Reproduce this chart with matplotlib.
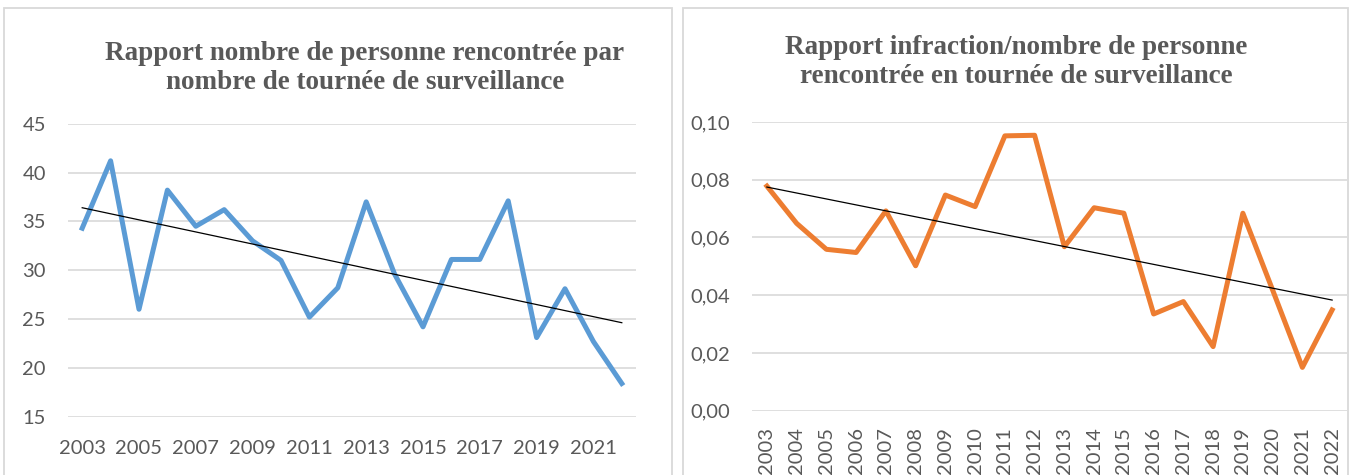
import numpy as np
import matplotlib
matplotlib.use("Agg")
import matplotlib.pyplot as plt
from matplotlib.patches import Rectangle

years = list(range(2003, 2023))

# personnes rencontrées / tournée
personnes = [34.3, 41.2, 26.0, 38.2, 34.5, 36.2, 33.0, 31.0, 25.2, 28.2,
             37.0, 29.6, 24.2, 31.1, 31.1, 37.1, 23.1, 28.1, 22.7, 18.4]

# infractions / personne rencontrée
infractions = [0.0778, 0.0649, 0.0559, 0.0548, 0.0692, 0.0502, 0.0747, 0.0707,
               0.0952, 0.0954, 0.0568, 0.0703, 0.0684, 0.0335, 0.0378, 0.0222,
               0.0684, 0.0418, 0.0150, 0.0349]

left_ticks = [15, 20, 25, 30, 35, 40, 45]
right_ticks = [0.00, 0.02, 0.04, 0.06, 0.08, 0.10]

title_left = "Rapport nombre de personne rencontrée par\nnombre de tournée de surveillance"
title_right = "Rapport infraction/nombre de personne\nrencontrée en tournée de surveillance"

GRID = "#D9D9D9"
TXT = "#595959"

W, H = 1354, 475
fig = plt.figure(figsize=(W / 100, H / 100), dpi=100)


def fx(px):
    return px / W


def fy(py):
    return 1 - py / H


# chart frames
for x0, x1 in [(4, 672), (683, 1348)]:
    fig.patches.append(Rectangle((fx(x0), fy(490)), fx(x1 - x0), fy(8) - fy(490),
                                 transform=fig.transFigure, fill=False,
                                 edgecolor=GRID, linewidth=1.3))


def style(ax, ticks, labels, ylim):
    ax.set_xlim(-0.5, len(years) - 0.5)
    ax.set_ylim(*ylim)
    ax.set_yticks(ticks)
    ax.set_yticklabels(labels)
    ax.grid(axis="y", color=GRID, linewidth=1.2)
    ax.set_axisbelow(True)
    for s in ax.spines.values():
        s.set_visible(False)
    ax.tick_params(length=0, colors=TXT, labelsize=14.5)
    for lab in ax.get_xticklabels() + ax.get_yticklabels():
        lab.set_family("Lato")


def trend(ax, x, y):
    a, b = np.polyfit(x, y, 1)
    ax.plot(x, a * x + b, color="black", linewidth=0.9, zorder=4)


# left chart
axl = fig.add_axes([fx(68), fy(416.7), fx(568), fy(123.7) - fy(416.7)])
xl = np.arange(len(years))
axl.plot(xl, personnes, color="#5B9BD5", linewidth=3.6, solid_joinstyle="round", zorder=3)
trend(axl, xl, personnes)
axl.set_xticks(xl[::2])
axl.set_xticklabels([str(y) for y in years[::2]])
style(axl, left_ticks, [str(t) for t in left_ticks], (15, 45))
axl.tick_params(axis="x", pad=17)
axl.tick_params(axis="y", pad=16)
fig.text(fx(365), fy(68), title_left, ha="center", va="center", fontsize=19.5,
         fontweight="bold", family="Liberation Serif", color=TXT, linespacing=1.2)

# right chart
axr = fig.add_axes([fx(752), fy(410.7), fx(595), fy(122) - fy(410.7)])
xr = np.arange(len(years))
axr.plot(xr, infractions, color="#ED7D31", linewidth=3.6, solid_joinstyle="round", zorder=3)
trend(axr, xr, infractions)
axr.set_xticks(xr)
axr.set_xticklabels([str(y) for y in years], rotation=90, va="top")
style(axr, right_ticks, [f"{t:.2f}".replace(".", ",") for t in right_ticks], (0, 0.10))
axr.tick_params(axis="x", pad=12)
axr.tick_params(axis="y", pad=16)
fig.text(fx(1016), fy(62), title_right, ha="center", va="center", fontsize=19.5,
         fontweight="bold", family="Liberation Serif", color=TXT, linespacing=1.2)

fig.savefig("out.png", dpi=100)
